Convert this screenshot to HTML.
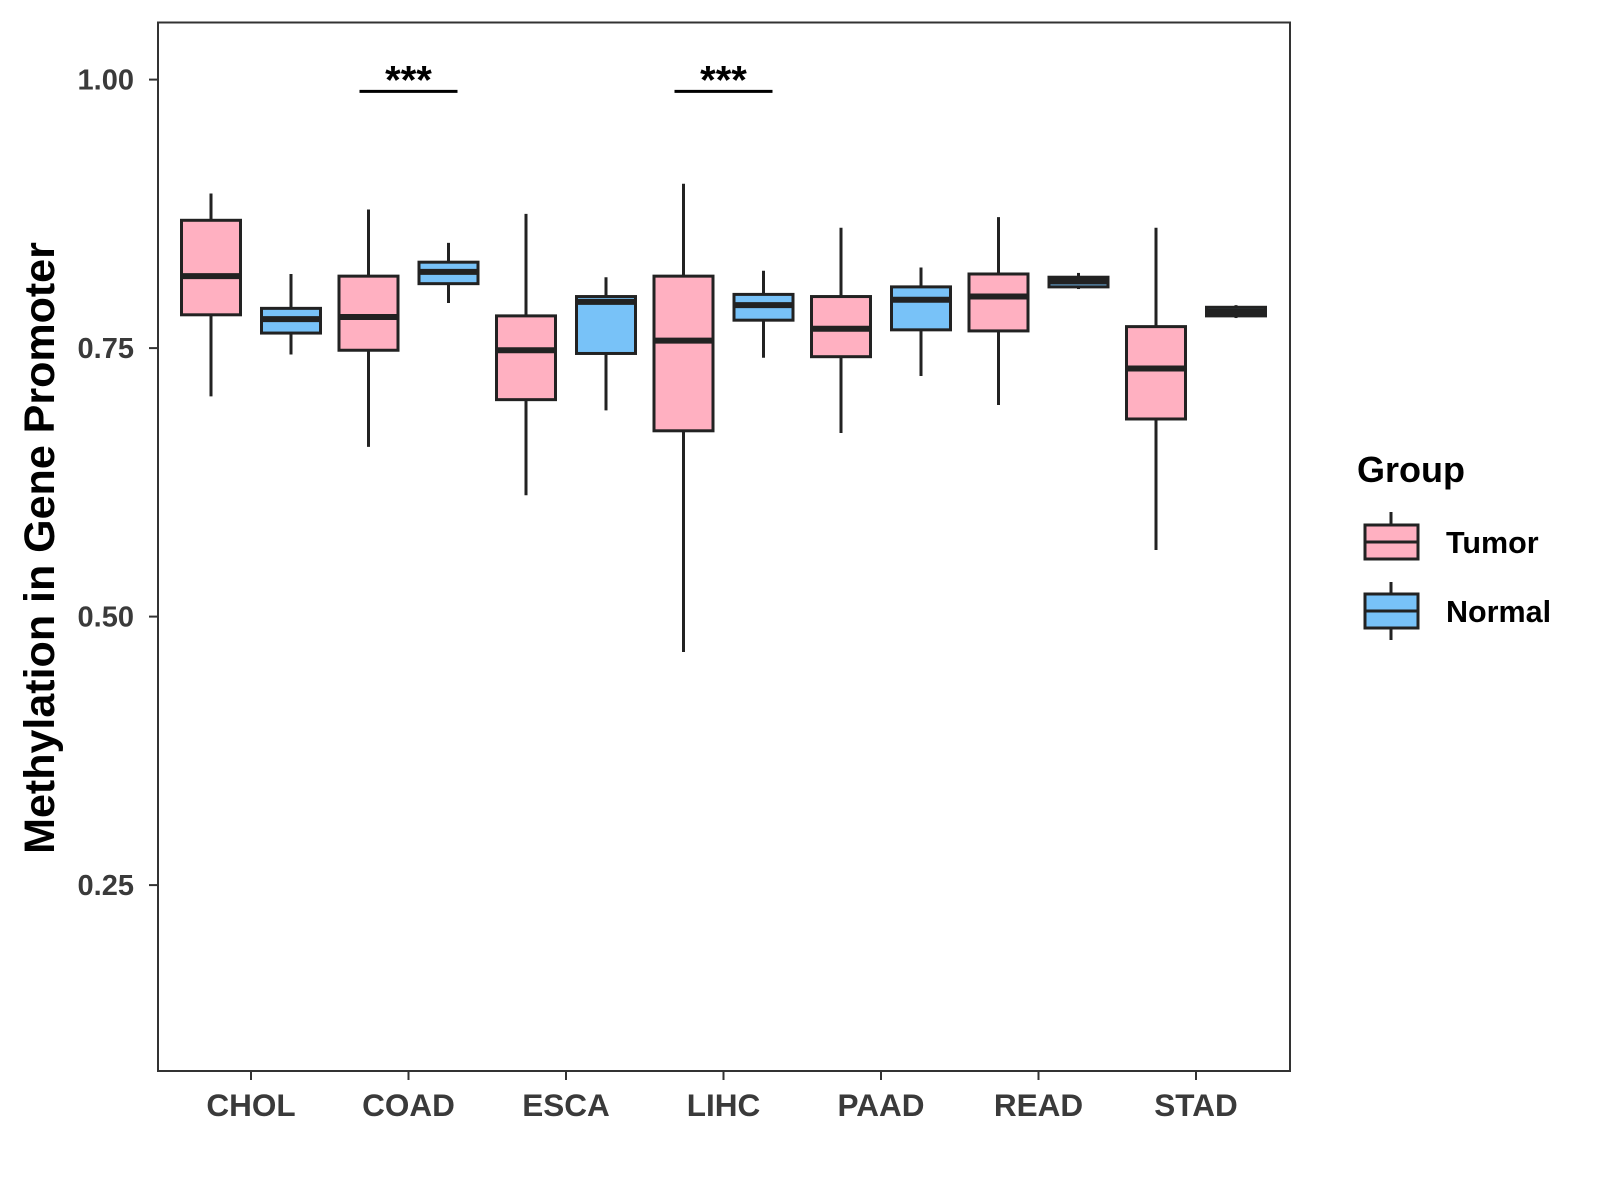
<!DOCTYPE html>
<html><head><meta charset="utf-8"><style>
html,body{margin:0;padding:0;background:#fff;}
svg{display:block;font-family:"Liberation Sans",Arial,sans-serif;}
</style></head><body>
<svg id="chart" width="1600" height="1200" viewBox="0 0 1600 1200">
<rect x="0" y="0" width="1600" height="1200" fill="#fff"/>
<g id="marks"></g>
<rect x="158" y="22.5" width="1132" height="1048.5" fill="none" stroke="#333" stroke-width="2"/>
<g id="axes"></g>
<text x="0" y="0" transform="translate(54,548) rotate(-90)" text-anchor="middle" font-size="43" font-weight="bold" fill="#000">Methylation in Gene Promoter</text>
<g>
<text x="1357" y="482" font-size="36" font-weight="bold" fill="#000">Group</text>
<g>
<line x1="1391" y1="512" x2="1391" y2="560" stroke="#222" stroke-width="3"/>
<rect x="1365" y="525" width="53" height="34" fill="#FFB0C1" stroke="#222" stroke-width="3"/>
<line x1="1365" y1="542" x2="1418" y2="542" stroke="#222" stroke-width="3"/>
<text x="1446" y="553" font-size="30.5" font-weight="bold" fill="#000">Tumor</text>
</g>
<g>
<line x1="1391" y1="582" x2="1391" y2="640" stroke="#222" stroke-width="3"/>
<rect x="1365" y="594" width="53" height="34" fill="#78C2F8" stroke="#222" stroke-width="3"/>
<line x1="1365" y1="611" x2="1418" y2="611" stroke="#222" stroke-width="3"/>
<text x="1446" y="622" font-size="30.5" font-weight="bold" fill="#000">Normal</text>
</g>
</g>
</svg>
<script>
const categories = ["CHOL","COAD","ESCA","LIHC","PAAD","READ","STAD"];
// [lowWhisker, Q1, median, Q3, highWhisker]
const tumorStats = [
 [0.705,0.781,0.817,0.869,0.894],
 [0.658,0.748,0.779,0.817,0.879],
 [0.613,0.702,0.748,0.780,0.875],
 [0.467,0.673,0.757,0.817,0.903],
 [0.671,0.742,0.768,0.798,0.862],
 [0.697,0.766,0.798,0.819,0.872],
 [0.562,0.684,0.731,0.770,0.862]
];
const normalStats = [
 [0.744,0.764,0.777,0.787,0.819],
 [0.792,0.810,0.821,0.830,0.848],
 [0.692,0.745,0.793,0.798,0.816],
 [0.741,0.776,0.790,0.800,0.822],
 [0.724,0.767,0.795,0.807,0.825],
 [0.805,0.807,0.812,0.816,0.820],
 [0.778,0.780,0.784,0.788,0.790]
];
const yTicks = [0.25,0.50,0.75,1.00];
const sigCategories = ["COAD","LIHC"];
const sigLevel = 0.989;

const NS="http://www.w3.org/2000/svg";
const yScale = v => 79.6 + (1 - v) * 1074;
const xScale = i => 251 + i * 157.5;
const marks = document.getElementById('marks');
const axes = document.getElementById('axes');
function mk(tag, attrs, parent){const e=document.createElementNS(NS,tag);for(const k in attrs)e.setAttribute(k,attrs[k]);parent.appendChild(e);return e;}

function drawBox(stats, cx, fill, name){
  const g = mk('g',{},marks);
  
  
  const [lo,q1,med,q3,hi]=stats, w=59;
  mk('line',{x1:cx,x2:cx,y1:yScale(hi),y2:yScale(lo),stroke:'#222','stroke-width':3},g);
  mk('rect',{x:cx-w/2,y:yScale(q3),width:w,height:Math.max(yScale(q1)-yScale(q3),1),fill:fill,stroke:'#222','stroke-width':3},g);
  mk('line',{x1:cx-w/2,x2:cx+w/2,y1:yScale(med),y2:yScale(med),stroke:'#222','stroke-width':6},g);
}
categories.forEach((c,i)=>{
  drawBox(tumorStats[i], xScale(i)-40, '#FFB0C1', 'box-tumor-'+c.toLowerCase());
  drawBox(normalStats[i], xScale(i)+40, '#78C2F8', 'box-normal-'+c.toLowerCase());
  const t=mk('line',{x1:xScale(i),x2:xScale(i),y1:1071,y2:1080,stroke:'#333','stroke-width':2},axes);
  
  
  const l=mk('text',{x:xScale(i),y:1116,'text-anchor':'middle','font-size':31.5,'font-weight':'bold',fill:'#3a3a3a'},axes);
  l.textContent=c;
  
  
});
yTicks.forEach(v=>{
  const t=mk('line',{x1:149,x2:158,y1:yScale(v),y2:yScale(v),stroke:'#333','stroke-width':2},axes);
  
  
  const l=mk('text',{x:134,y:yScale(v)+10,'text-anchor':'end','font-size':29,'font-weight':'bold',fill:'#3a3a3a'},axes);
  l.textContent=v.toFixed(2);
  
  
});
sigCategories.forEach(c=>{
  const i=categories.indexOf(c);
  const g=mk('g',{},marks);
  
  
  mk('line',{x1:xScale(i)-49,x2:xScale(i)+49,y1:yScale(sigLevel),y2:yScale(sigLevel),stroke:'#000','stroke-width':3},g);
  const t=mk('text',{x:xScale(i),y:yScale(sigLevel)+2,'text-anchor':'middle','font-size':40,'font-weight':'bold',fill:'#000'},g);
  t.textContent='***';
});
</script>
</body></html>
